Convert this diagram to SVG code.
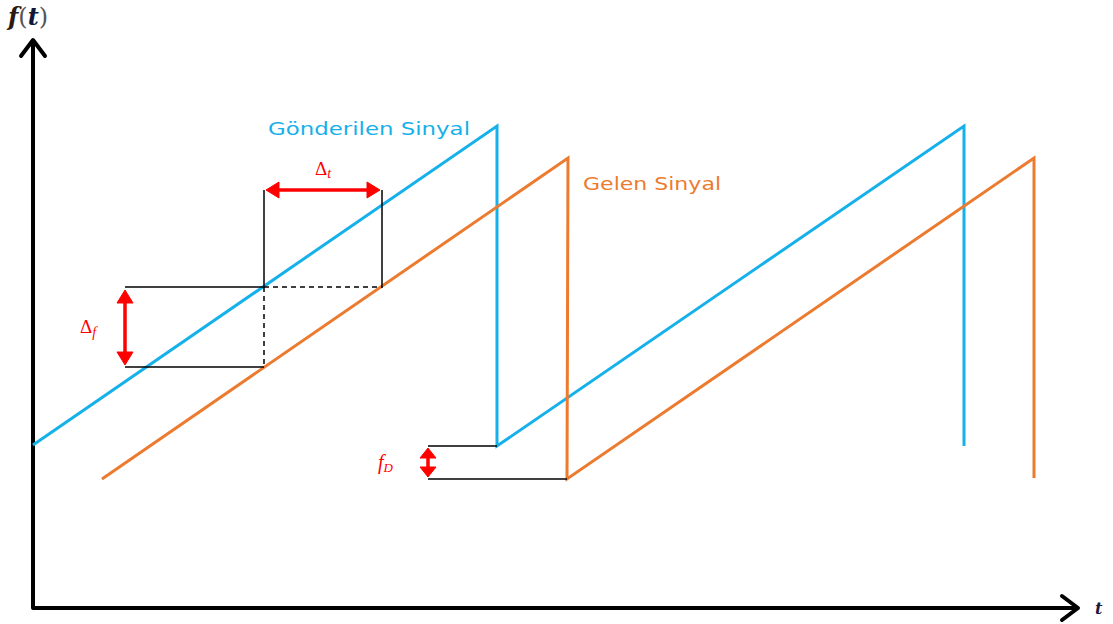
<svg xmlns="http://www.w3.org/2000/svg" width="1113" height="624" viewBox="0 0 1113 624">
<style>
.ax{stroke:#000;stroke-width:4;fill:none;stroke-linecap:round;stroke-linejoin:round}
.blue{stroke:#16B0EA;stroke-width:3;fill:none;stroke-linejoin:miter}
.orange{stroke:#EC7B2F;stroke-width:3;fill:none;stroke-linejoin:miter}
.guide{stroke:#000;stroke-width:1.5;fill:none}
.dash{stroke:#000;stroke-width:1.5;fill:none;stroke-dasharray:5,4}
.red{stroke:#FF0000;stroke-width:3.5;fill:none}
.redh{fill:#FF0000;stroke:#FF0000;stroke-width:1;stroke-linejoin:round}
.lbl{font-family:"DejaVu Sans",sans-serif;font-size:17px}
.math{font-family:"Liberation Serif",serif;fill:#FF0000}
</style>
<g id="axes">
<polyline class="ax" points="33,45 33,608 1075,608"/>
<polyline class="ax" points="21,56 33,40 45,56"/>
<polyline class="ax" points="1062,596 1078,608 1062,620"/>
<text x="8" y="25" font-family="DejaVu Serif, serif" font-size="24"><tspan font-style="italic" font-weight="bold" fill="#2a1a10">f</tspan><tspan fill="#555">(</tspan><tspan font-style="italic" font-weight="bold" fill="#10183a">t</tspan><tspan fill="#555">)</tspan></text>
<text x="1095" y="614" font-family="DejaVu Serif, serif" font-style="italic" font-weight="bold" font-size="16" fill="#1a1a3a">t</text>
</g>
<g id="sent">
<polyline class="blue" points="33,445 497,126 497,446 964,126 964,446"/>
<text class="lbl" x="268" y="135" fill="#16B0EA" textLength="202" lengthAdjust="spacingAndGlyphs">Gönderilen  Sinyal</text>
</g>
<g id="received">
<polyline class="orange" points="102,479 568,158 567,479 1034,158 1034,478"/>
<text class="lbl" x="583" y="190" fill="#EC7B2F" textLength="138" lengthAdjust="spacingAndGlyphs">Gelen  Sinyal</text>
</g>
<g id="connectors">
<line class="guide" x1="264" y1="190" x2="264" y2="287"/>
<line class="dash" x1="264" y1="287" x2="264" y2="367"/>
<line class="guide" x1="382" y1="190" x2="382" y2="288"/>
<line class="guide" x1="125" y1="287" x2="264" y2="287"/>
<line class="dash" x1="264" y1="287" x2="382" y2="287"/>
<line class="guide" x1="125" y1="367" x2="264" y2="367"/>
<line class="guide" x1="428" y1="446" x2="497" y2="446"/>
<line class="guide" x1="428" y1="479" x2="567" y2="479"/>
</g>
<g id="delta-t">
<line class="red" x1="275" y1="190" x2="371" y2="190"/>
<polygon class="redh" points="279,182 266,190 279,198"/>
<polygon class="redh" points="367,182 380,190 367,198"/>
<text class="math" x="315" y="175" font-size="19">Δ<tspan font-size="14" font-style="italic" dy="3">t</tspan></text>
</g>
<g id="delta-f">
<line class="red" x1="125" y1="298" x2="125" y2="357"/>
<polygon class="redh" points="117,303 125,290 133,303"/>
<polygon class="redh" points="117,352 125,365 133,352"/>
<text class="math" x="80" y="333" font-size="19">Δ<tspan font-size="14" font-style="italic" dy="4">f</tspan></text>
</g>
<g id="fd">
<line class="red" x1="428" y1="455" x2="428" y2="470"/>
<polygon class="redh" points="420,458 428,448 436,458"/>
<polygon class="redh" points="420,467 428,477 436,467"/>
<text class="math" x="378" y="469" font-size="20" font-style="italic">f<tspan font-size="13" dy="3">D</tspan></text>
</g>
</svg>
